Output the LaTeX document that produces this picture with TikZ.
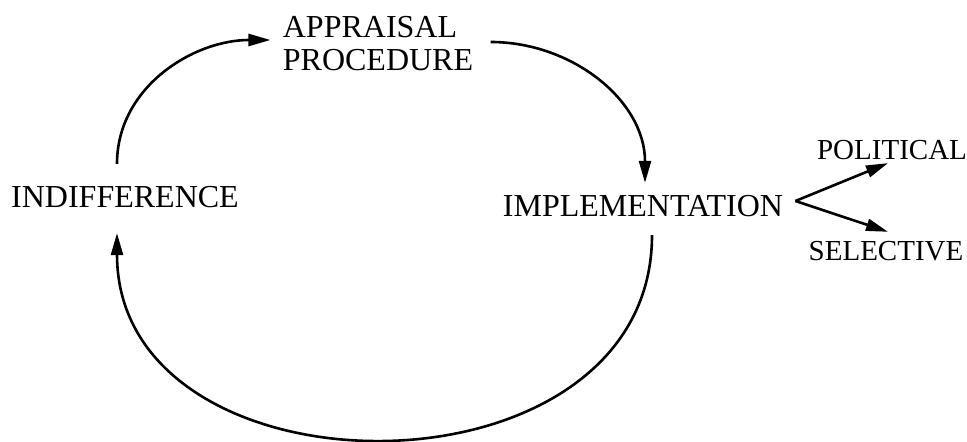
\documentclass[tikz,border=0pt]{standalone}
\usepackage{fontspec}
\setmainfont{Liberation Serif}
\usetikzlibrary{arrows.meta}

\begin{document}
\begin{tikzpicture}[
  x=0.5pt, y=0.5pt,
  font=\fontsize{16}{16.5}\selectfont,
  stage/.style={inner sep=0pt},
  side/.style={inner sep=0pt, font=\fontsize{14.5}{16}\selectfont},
  flow/.style={-{Triangle[length=11pt,width=6pt]}, line width=1.3pt}
]
\useasboundingbox (0,0) rectangle (967,442);
\node[stage, align=left] (app) at (378,398) {APPRAISAL\\PROCEDURE};
\node[stage] (ind) at (125,245) {INDIFFERENCE};
\node[stage] (imp) at (643,236) {IMPLEMENTATION};
\node[side] (pol) at (892,292) {POLITICAL};
\node[side] (sel) at (886,191) {SELECTIVE};
\coordinate (fork) at ([xshift=6pt,yshift=2.5pt]imp.east);
\draw[flow] ([xshift=-4pt,yshift=11pt]ind.north) to[out=90,in=180] ([xshift=-6pt,yshift=2pt]app.west);
\draw[flow] ([xshift=8.5pt,yshift=1pt]app.east) to[out=0,in=90] ([xshift=1pt,yshift=6pt]imp.north);
\draw[flow] ([xshift=4.5pt,yshift=-9pt]imp.south) to[out=-90,in=-90,looseness=1.3] ([xshift=-4pt,yshift=-12.5pt]ind.south);
\draw[flow] (fork) -- ([xshift=-2pt,yshift=-1.5pt]pol.south);
\draw[flow] (fork) -- ([xshift=1pt,yshift=4.5pt]sel.north);
\end{tikzpicture}
\end{document}
